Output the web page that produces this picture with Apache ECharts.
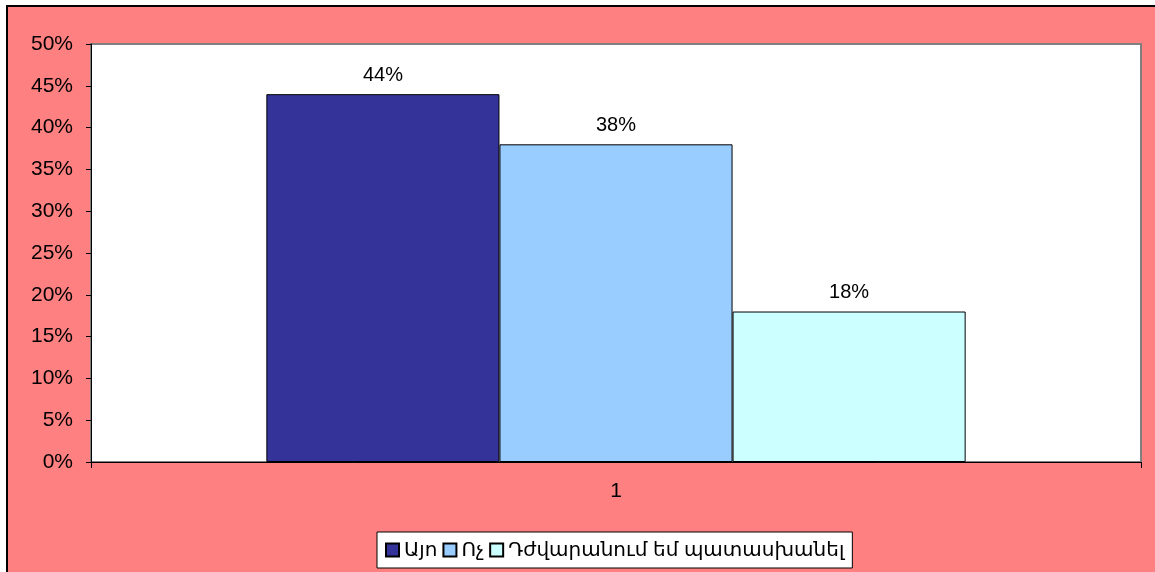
<!DOCTYPE html>
<html>
<head>
<meta charset="utf-8">
<script src="https://cdn.jsdelivr.net/npm/echarts@6/dist/echarts.min.js"></script>
<style>
  html, body { margin: 0; padding: 0; background: #fff; overflow: hidden; }
  #frame { position: absolute; left: 6px; top: 5px; width: 3000px; height: 3000px;
           background: #FF8080; border: 2px solid #000; }
  #chart { position: absolute; left: 0; top: 0; width: 1155px; height: 572px; }
</style>
</head>
<body>
<div id="frame"></div>
<div id="chart"></div>
<script>
// data
const categories = ["1"];
const seriesNames = ["Այո", "Ոչ", "Դժվարանում եմ պատասխանել"];
const seriesValues = [[44], [38], [18]];
const seriesColors = ["#333399", "#99CCFF", "#CCFFFF"];

const font = "Liberation Sans, Arial, DejaVu Sans, sans-serif";

let chart = echarts.init(document.getElementById("chart"));

let option = {
  backgroundColor: "transparent",
  animation: false,
  textStyle: { fontFamily: font },
  grid: {
    left: 91,
    right: 14,
    top: 44,
    bottom: 110,
    show: true,
    backgroundColor: "#fff",
    borderColor: "#808080",
    borderWidth: 2
  },
  legend: {
    bottom: 4,
    left: 377,
    data: seriesNames,
    backgroundColor: "#fff",
    borderColor: "#000",
    borderWidth: 1,
    borderRadius: 0,
    padding: [8, 8, 8, 8],
    itemWidth: 13,
    itemHeight: 13,
    itemGap: 5,
    icon: "rect",
    textStyle: { fontSize: 20, color: "#000", fontFamily: font }
  },
  xAxis: {
    type: "category",
    data: categories,
    axisLine: { show: true, lineStyle: { color: "#000", width: 1 } },
    axisTick: { show: true, length: 6, lineStyle: { color: "#000" } },
    axisLabel: { fontSize: 21, color: "#000", margin: 19 }
  },
  yAxis: {
    type: "value",
    min: 0,
    max: 50,
    interval: 5,
    axisLine: { show: true, lineStyle: { color: "#000", width: 1 } },
    axisTick: { show: true, length: 5, lineStyle: { color: "#000" } },
    splitLine: { show: false },
    axisLabel: { fontSize: 21, color: "#000", margin: 18, formatter: "{value}%" }
  },
  series: seriesNames.map((name, i) => ({
    name: name,
    type: "bar",
    data: seriesValues[i],
    barWidth: "22.2%",
    barGap: "0%",
    itemStyle: { color: seriesColors[i], borderColor: "#000", borderWidth: 1 },
    label: {
      show: true,
      position: "top",
      distance: 9,
      formatter: "{c}%",
      fontSize: 20,
      color: "#000"
    }
  }))
};

chart.setOption(option);
</script>
</body>
</html>
